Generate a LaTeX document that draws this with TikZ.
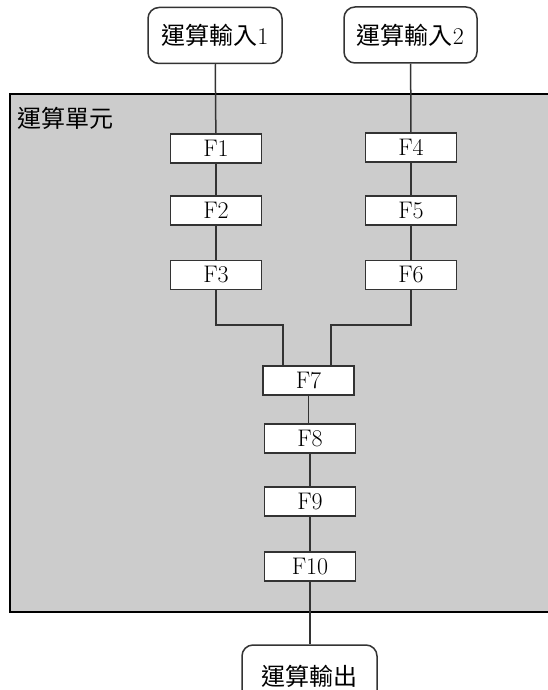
\documentclass[tikz,border=0pt]{standalone}
\usepackage{fontspec}
\newfontfamily\cjk{Noto Sans CJK TC}
\newcommand{\cjkbig}{\cjk\fontsize{24}{26}\selectfont}
\begin{document}
\begin{tikzpicture}[x=1pt,y=-1pt,
  fbox/.style={draw=black!80,line width=1.5pt,fill=white,minimum width=91pt,minimum height=29pt,inner sep=0pt,font=\fontsize{24}{26}\selectfont},
  iobox/.style={draw=black!80,line width=1.5pt,fill=white,rounded corners=11pt,minimum width=134pt,minimum height=56pt,inner sep=0pt,font=\fontsize{24}{26}\selectfont},
  conn/.style={draw=black!80,line width=1.5pt}]
\useasboundingbox (0,0) rectangle (547,690);
\fill[black!20] (10,94) rectangle (560,612);
\draw[line width=2pt,black] (560,94) -- (10,94) -- (10,612) -- (560,612);
\node[anchor=west,inner sep=0pt,font=\cjkbig] (unit) at (17,118) {運算單元};
\node[iobox] (in1) at (215,35.5) {{\cjkbig 運算輸入}1};
\node[iobox,minimum width=133pt] (in2) at (410.5,35) {{\cjkbig 運算輸入}2};
\node[fbox] (F1) at (216,148.5) {F1};
\node[fbox] (F2) at (216,210.5) {F2};
\node[fbox] (F3) at (216,275) {F3};
\node[fbox] (F4) at (411,147.5) {F4};
\node[fbox] (F5) at (411,210.5) {F5};
\node[fbox] (F6) at (411,275) {F6};
\node[fbox] (F7) at (308.5,380.5) {F7};
\node[fbox] (F8) at (310,438.5) {F8};
\node[fbox] (F9) at (310,501.5) {F9};
\node[fbox] (F10) at (310,566.5) {F10};
\node[iobox,minimum width=135pt,minimum height=62pt] (out) at (309.5,676) {\cjkbig 運算輸出};
\coordinate (m1) at (216,325);
\coordinate (m2) at (411,325);
\draw[conn] (in1) -- (F1);
\draw[conn] (F1) -- (F2);
\draw[conn] (F2) -- (F3);
\draw[conn] (in2) -- (F4);
\draw[conn] (F4) -- (F5);
\draw[conn] (F5) -- (F6);
\draw[conn] (F3.south) -- (m1) -| ([xshift=-25.5pt]F7.north);
\draw[conn] (F6.south) -- (m2) -| ([xshift=22.5pt]F7.north);
\draw[conn] (F7.south) -- (F7.south |- F8.north);
\draw[conn] (F8) -- (F9);
\draw[conn] (F9) -- (F10);
\draw[conn] (F10.south) -- (F10.south |- out.north);
\end{tikzpicture}
\end{document}
